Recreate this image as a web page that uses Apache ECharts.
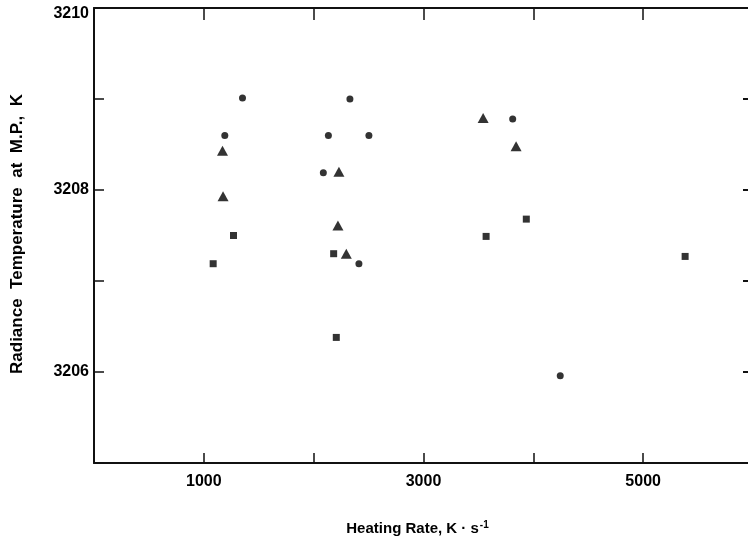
<!DOCTYPE html>
<html>
<head>
<meta charset="utf-8">
<script src="https://cdn.jsdelivr.net/npm/echarts@6/dist/echarts.min.js"></script>
<style>
html,body{margin:0;padding:0;background:#fff;}
#chart{width:748px;height:543px;}
</style>
</head>
<body>
<div id="chart"></div>
<script>
// Heating rate (K/s) and radiance temperature (K) per marker type
var circleX = [1191, 1352, 2134, 2330, 2503, 2088, 2412, 3812, 4245];
var circleY = [3208.60, 3209.01, 3208.60, 3209.00, 3208.60, 3208.19, 3207.19, 3208.78, 3205.96];
var triangleX = [1170, 1175, 2230, 2221, 2297, 3543, 3843];
var triangleY = [3208.43, 3207.93, 3208.20, 3207.61, 3207.30, 3208.79, 3208.48];
var squareX = [1085, 1270, 2182, 2206, 3570, 3936, 5382];
var squareY = [3207.19, 3207.50, 3207.30, 3206.38, 3207.49, 3207.68, 3207.27];
var xLabels = [1000, 3000, 5000];
var yLabels = [3206, 3208, 3210];

function pairs(xs, ys){ return xs.map(function(x,i){ return [x, ys[i]]; }); }

var FONT = 'Liberation Sans';
var lineStyle = {color:'#111', width:2};

var chart = echarts.init(document.getElementById('chart'), null, {renderer:'canvas'});
chart.setOption({
  backgroundColor:'#fff',
  animation:false,
  grid:{left:94, right:-5, top:8, bottom:80, containLabel:false, outerBoundsMode:'none'},
  xAxis:[{
    type:'value', position:'bottom', min:0, max:6000, interval:1000,
    axisLine:{show:true, onZero:false, lineStyle:lineStyle},
    axisTick:{show:true, inside:true, length:10, lineStyle:{color:'#111', width:1.5}},
    splitLine:{show:false},
    axisLabel:{show:true, margin:11, color:'#000', fontFamily:FONT, fontWeight:'bold', fontSize:16,
      formatter:function(v){ return xLabels.indexOf(v) >= 0 ? String(v) : ''; }},
    name:'{a|Heating Rate, K · s}{b|-1}', nameLocation:'middle', nameGap:57,
    nameTextStyle:{padding:[0,12,0,0], rich:{
      a:{fontFamily:FONT, fontWeight:'bold', fontSize:15, color:'#000'},
      b:{fontFamily:FONT, fontWeight:'bold', fontSize:10, color:'#000', verticalAlign:'top', padding:[0,0,8,1]}
    }}
  },{
    type:'value', position:'top', min:0, max:6000, interval:1000,
    axisLine:{show:true, onZero:false, lineStyle:lineStyle},
    axisTick:{show:true, inside:true, length:12, lineStyle:{color:'#111', width:1.5}},
    splitLine:{show:false}, axisLabel:{show:false}
  }],
  yAxis:[{
    type:'value', position:'left', min:3205, max:3210, interval:1,
    axisLine:{show:true, onZero:false, lineStyle:lineStyle},
    axisTick:{show:true, inside:true, length:10, lineStyle:{color:'#111', width:1.5}},
    splitLine:{show:false},
    axisLabel:{show:true, margin:5, color:'#000', fontFamily:FONT, fontWeight:'bold', fontSize:16,
      formatter:function(v){
        if (yLabels.indexOf(v) < 0) return '';
        return v === 3210 ? '{t|' + v + '}' : String(v);
      },
      rich:{t:{fontFamily:FONT, fontWeight:'bold', fontSize:16, color:'#000', padding:[12,0,0,0]}}
    }
  },{
    type:'value', position:'right', offset:-5, min:3205, max:3210, interval:1,
    axisLine:{show:false, onZero:false},
    axisTick:{show:true, inside:true, length:5, lineStyle:{color:'#111', width:2}},
    splitLine:{show:false}, axisLabel:{show:false}
  }],
  graphic:[{
    type:'text', x:17, y:234, rotation:Math.PI/2,
    style:{text:'Radiance  Temperature  at  M.P.,  K', fontFamily:FONT, fontWeight:'bold', fontSize:17,
      fill:'#000', align:'center', verticalAlign:'middle'}
  }],
  series:[{
    type:'scatter', xAxisIndex:0, yAxisIndex:0, symbol:'circle', symbolSize:7,
    itemStyle:{color:'#000'}, data:pairs(circleX, circleY)
  },{
    type:'scatter', xAxisIndex:0, yAxisIndex:0, symbol:'triangle', symbolSize:[11,10],
    itemStyle:{color:'#000'}, data:pairs(triangleX, triangleY)
  },{
    type:'scatter', xAxisIndex:0, yAxisIndex:0, symbol:'rect', symbolSize:7,
    itemStyle:{color:'#000'}, data:pairs(squareX, squareY)
  }]
});
</script>
</body>
</html>
